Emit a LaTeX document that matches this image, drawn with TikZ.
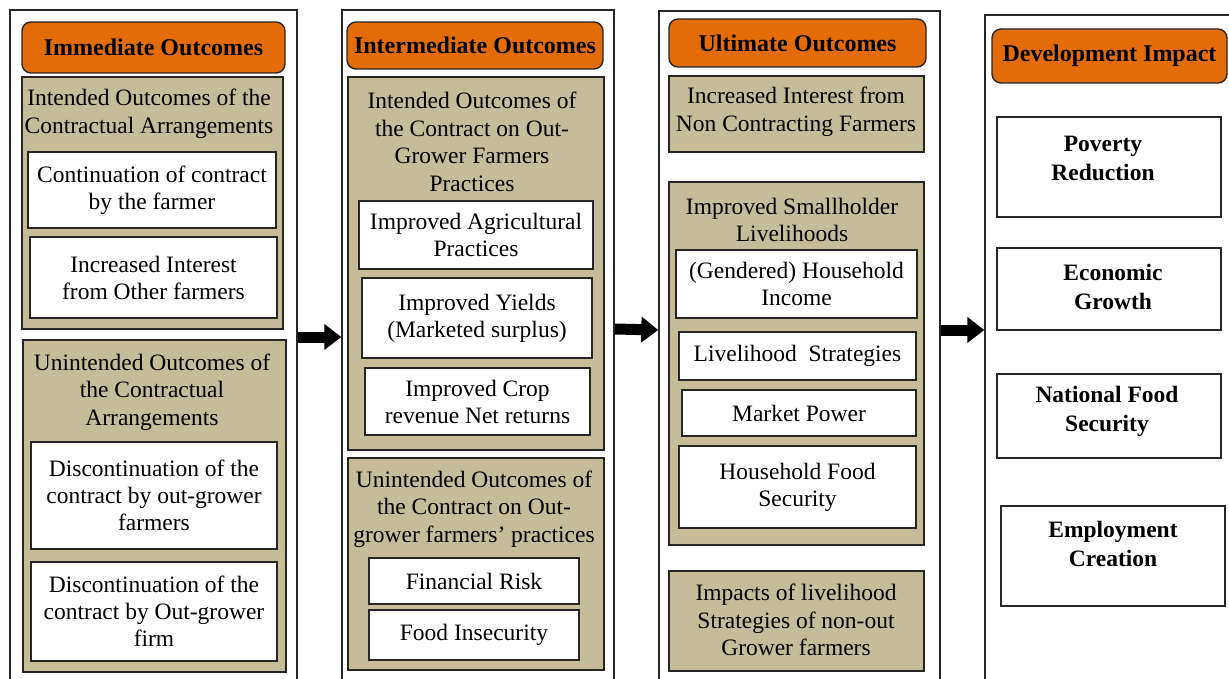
\documentclass[tikz,border=0pt]{standalone}
\usepackage{fontspec}
\setmainfont{Liberation Serif}
\usetikzlibrary{arrows.meta}
\definecolor{hdrorange}{HTML}{E36C09}
\definecolor{tanfill}{HTML}{C4BD97}
\definecolor{edgedark}{HTML}{262626}
\tikzset{
  colbox/.style={draw=edgedark, line width=1.4pt, fill=white, inner sep=0pt},
  hdr/.style={draw=edgedark, line width=1.4pt, fill=hdrorange, rounded corners=9pt, inner sep=0pt,
    font=\fontsize{24}{28}\selectfont\bfseries},
  tanbox/.style={draw=edgedark, line width=2pt, fill=tanfill, inner sep=0pt},
  wbox/.style={draw=edgedark, line width=2pt, fill=white, inner sep=0pt, align=center,
    font=\fontsize{23.5}{27}\selectfont},
  dbox/.style={draw=edgedark, line width=2pt, fill=white, inner sep=0pt},
  txt/.style={inner sep=0pt, align=center, font=\fontsize{23.5}{27.5}\selectfont},
  btxt/.style={inner sep=0pt, align=center, font=\fontsize{23.5}{29}\selectfont\bfseries},
  bigarrow/.style={line width=11pt, -{Triangle[width=25pt,length=17pt]}, black}
}
\begin{document}
\begin{tikzpicture}[x=1pt,y=-1pt]
\useasboundingbox (0,0) rectangle (1229,679);
\clip (0,0) rectangle (1229,679);
\fill[white] (0,0) rectangle (1229,679);

% columns
\node[colbox, minimum width=287, minimum height=700] (col1) at (153.5,360) {};
\node[colbox, minimum width=272, minimum height=700] (col2) at (478,360) {};
\node[colbox, minimum width=281, minimum height=700] (col3) at (799.5,361) {};
\node[colbox, minimum width=260, minimum height=700] (col4) at (1115,365) {};

% headers
\node[hdr, minimum width=263, minimum height=51] (h1) at (153.5,47.5) {Immediate Outcomes};
\node[hdr, minimum width=256, minimum height=47] (h2) at (475,45.5) {Intermediate Outcomes};
\node[hdr, minimum width=257, minimum height=48] (h3) at (797.5,43) {Ultimate Outcomes};
\node[hdr, minimum width=235, minimum height=54] (h4) at (1109.5,56) {Development Impact};

% column 1
\node[tanbox, minimum width=261, minimum height=252] (t1a) at (152.5,203) {};
\node[txt] (t1atitle) at (149,114) {Intended Outcomes of the\\Contractual Arrangements};
\node[wbox, minimum width=248, minimum height=76] (w1) at (152,190) {Continuation of contract\\by the farmer};
\node[wbox, minimum width=247, minimum height=81] (w2) at (153.5,277.5) {Increased Interest\\from Other farmers};
\node[tanbox, minimum width=263, minimum height=332] (t1b) at (154.5,506) {};
\node[txt] (t1btitle) at (152,392) {Unintended Outcomes of\\the Contractual\\Arrangements};
\node[wbox, minimum width=246, minimum height=107] (w3) at (154,495.5) {Discontinuation of the\\contract by out-grower\\farmers};
\node[wbox, minimum width=246, minimum height=99] (w4) at (154,611.5) {Discontinuation of the\\contract by Out-grower\\firm};

% column 2
\node[tanbox, minimum width=256, minimum height=373] (t2a) at (476,263.5) {};
\node[txt] (t2atitle) at (472,142) {Intended Outcomes of\\the Contract on Out-\\Grower Farmers\\Practices};
\node[wbox, minimum width=234, minimum height=68] (w5) at (476,235) {Improved Agricultural\\Practices};
\node[wbox, minimum width=230, minimum height=80] (w6) at (477,318) {Improved Yields\\(Marketed surplus)};
\node[wbox, minimum width=225, minimum height=67] (w7) at (477.5,401.5) {Improved Crop\\revenue Net returns};
\node[tanbox, minimum width=256, minimum height=212] (t2b) at (476,564) {};
\node[txt] (t2btitle) at (474,509) {Unintended Outcomes of\\the Contract on Out-\\grower farmers’ practices};
\node[wbox, minimum width=210, minimum height=46] (w8) at (474,581) {Financial Risk};
\node[wbox, minimum width=210, minimum height=50] (w9) at (474,635) {Food Insecurity};

% column 3
\node[tanbox, minimum width=255, minimum height=76] (t3a) at (796.5,114) {};
\node[txt] (t3atitle) at (796,112) {Increased Interest from\\Non Contracting Farmers};
\node[tanbox, minimum width=255, minimum height=363] (t3b) at (796.5,363.5) {};
\node[txt] (t3btitle) at (792,220) {Improved Smallholder\\Livelihoods};
\node[wbox, minimum width=241, minimum height=68] (w10) at (796.5,284) {(Gendered) Household\\Income};
\node[wbox, minimum width=237, minimum height=48] (w11) at (797.5,356) {Livelihood~ Strategies};
\node[wbox, minimum width=234, minimum height=46] (w12) at (799,413) {Market Power};
\node[wbox, minimum width=237, minimum height=82] (w13) at (797.5,487) {Household Food\\Security};
\node[tanbox, minimum width=255, minimum height=100] (t3c) at (796.5,621) {};
\node[txt] (t3ctitle) at (796,620) {Impacts of livelihood\\Strategies of non-out\\Grower farmers};

% column 4
\node[dbox, minimum width=224, minimum height=100] (w14) at (1109,167) {};
\node[btxt] (w14t) at (1103,158) {Poverty\\Reduction};
\node[dbox, minimum width=224, minimum height=82] (w15) at (1109,289) {};
\node[btxt] (w15t) at (1113,287) {Economic\\Growth};
\node[dbox, minimum width=224, minimum height=84] (w16) at (1109,416) {};
\node[btxt] (w16t) at (1107,411) {National Food\\Security};
\node[dbox, minimum width=224, minimum height=100] (w17) at (1113,556) {};
\node[btxt] (w17t) at (1113,544) {Employment\\Creation};

% arrows between columns
\draw[bigarrow] ([yshift=23pt]col1.east) -- ([yshift=23pt]col2.west);
\draw[bigarrow] ([yshift=31pt]col2.east) -- ([yshift=31pt]col3.west);
\draw[bigarrow] ([yshift=31pt]col3.east) -- ([yshift=35pt]col4.west);
\end{tikzpicture}
\end{document}
